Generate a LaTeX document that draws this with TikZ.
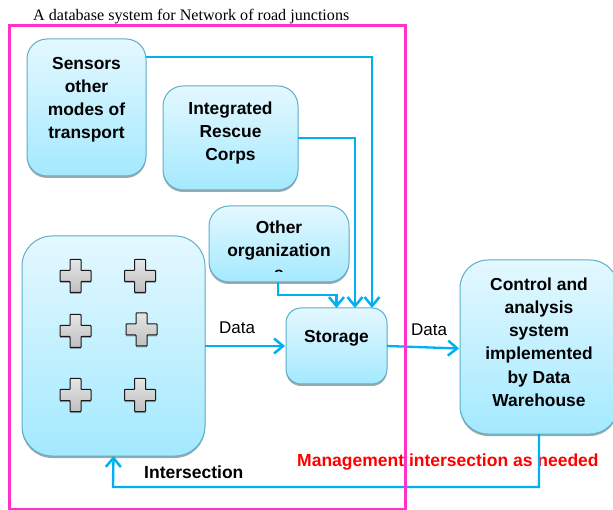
\documentclass[tikz,border=0pt]{standalone}
\usepackage{fontspec}
\setmainfont{Liberation Sans}
\newfontfamily\titlefont{Liberation Serif}
\usetikzlibrary{arrows.meta,shadows}
\definecolor{linkblue}{HTML}{00B0F0}
\definecolor{framepink}{HTML}{FF33CC}
\definecolor{boxedge}{HTML}{5BAFCB}
\definecolor{boxtop}{HTML}{E4F8FF}
\definecolor{boxbot}{HTML}{A4E9FF}
\newcommand{\stacktext}[2]{\raisebox{#1}[0pt][0pt]{\fontsize{17.4}{23.2}\selectfont\bfseries\begin{tabular}{@{}c@{}}#2\end{tabular}}}
\tikzset{
  x=1pt,y=-1pt,
  boxnode/.style={rectangle,draw=boxedge,line width=1pt,top color=boxtop,bottom color=boxbot,
    inner sep=0pt,outer sep=0pt,rounded corners=#1,
    drop shadow={shadow xshift=0pt,shadow yshift=-2pt,fill=black,opacity=.35}},
  boxnode/.default=20pt,
  link/.style={draw=linkblue,line width=2.3pt,-{Straight Barb[length=9pt,width=15pt,line width=2.5pt]}},
  plainlabel/.style={inner sep=0pt,font=\fontsize{17}{19}\selectfont},
  boldlabel/.style={inner sep=0pt,font=\fontsize{17.5}{19}\selectfont\bfseries},
  plusmark/.pic={
    \fill[black,opacity=.3,yshift=-1.5pt] (-5.5,-16.5)--(5.5,-16.5)--(5.5,-5.5)--(15.5,-5.5)--(15.5,5.5)--(5.5,5.5)--(5.5,16.5)--(-5.5,16.5)--(-5.5,5.5)--(-15.5,5.5)--(-15.5,-5.5)--(-5.5,-5.5)--cycle;
    \shade[top color=gray!20,bottom color=gray!50,draw=black!90,line width=1pt,rounded corners=.6pt]
      (-5.5,-16.5)--(5.5,-16.5)--(5.5,-5.5)--(15.5,-5.5)--(15.5,5.5)--(5.5,5.5)--(5.5,16.5)--(-5.5,16.5)--(-5.5,5.5)--(-15.5,5.5)--(-15.5,-5.5)--(-5.5,-5.5)--cycle;
  }
}
\begin{document}
\begin{tikzpicture}
\useasboundingbox (0,0) rectangle (613,510);
\node[inner sep=0pt,anchor=west,font=\titlefont\fontsize{16.1}{18}\selectfont] (title) at (33,16.5) {A database system for Network of road junctions};

\node[boxnode,minimum width=119pt,minimum height=137pt] (sensors) at (86.5,107.5) {\stacktext{4pt}{Sensors\\other\\modes of\\transport}};
\node[boxnode,minimum width=135pt,minimum height=104pt] (rescue) at (230.5,138) {\stacktext{1pt}{Integrated\\Rescue\\Corps}};
\node[boxnode,minimum width=140pt,minimum height=76pt] (other) at (279,244) {};
\begin{scope}
\clip (209,206) rectangle (349,272);
\node[inner sep=0pt] (othertext) at (279,244) {\stacktext{-12pt}{Other\\organization\\s}};
\end{scope}
\node[boxnode=30pt,minimum width=183pt,minimum height=220pt] (field) at (113.5,346) {};
\node[boxnode=15pt,minimum width=101pt,minimum height=76pt] (storage) at (336.5,346) {\stacktext{4pt}{Storage}};
\node[boxnode=28pt,minimum width=158pt,minimum height=174pt] (control) at (539,347) {\stacktext{-1pt}{Control and\\analysis\\system\\implemented\\by Data\\Warehouse}};

\pic at (75.5,276) {plusmark};
\pic at (140,276) {plusmark};
\pic at (75.5,331) {plusmark};
\pic at (141.5,329.5) {plusmark};
\pic at (75.5,395) {plusmark};
\pic at (140,395) {plusmark};

\node[boldlabel,text=red,anchor=west] (manage) at (297,462) {Management intersection as needed};
\node[boldlabel,anchor=west] (inter) at (144,472) {Intersection};
\node[plainlabel,anchor=west] (data1) at (219,328) {Data};
\node[plainlabel,anchor=west] (data2) at (411,330) {Data};

\draw[link] ([yshift=-18pt]sensors.north east) -| ([xshift=35.5pt]storage.north);
\draw[link] (rescue.east) -| ([xshift=18.5pt]storage.north);
\draw[link] (other.south -| 278,0) |- ([yshift=13pt]storage.north) -- (storage.north);
\draw[link] (field.east) -- ([xshift=-1pt]storage.west);
\draw[link] (storage.east) -- ([xshift=-1pt,yshift=-1.5pt]control.west);
\draw[link] (control.south) |- (113,487) -- (field.south);

\draw[framepink,line width=3pt] (9.5,26) rectangle (405,509);
\end{tikzpicture}
\end{document}
